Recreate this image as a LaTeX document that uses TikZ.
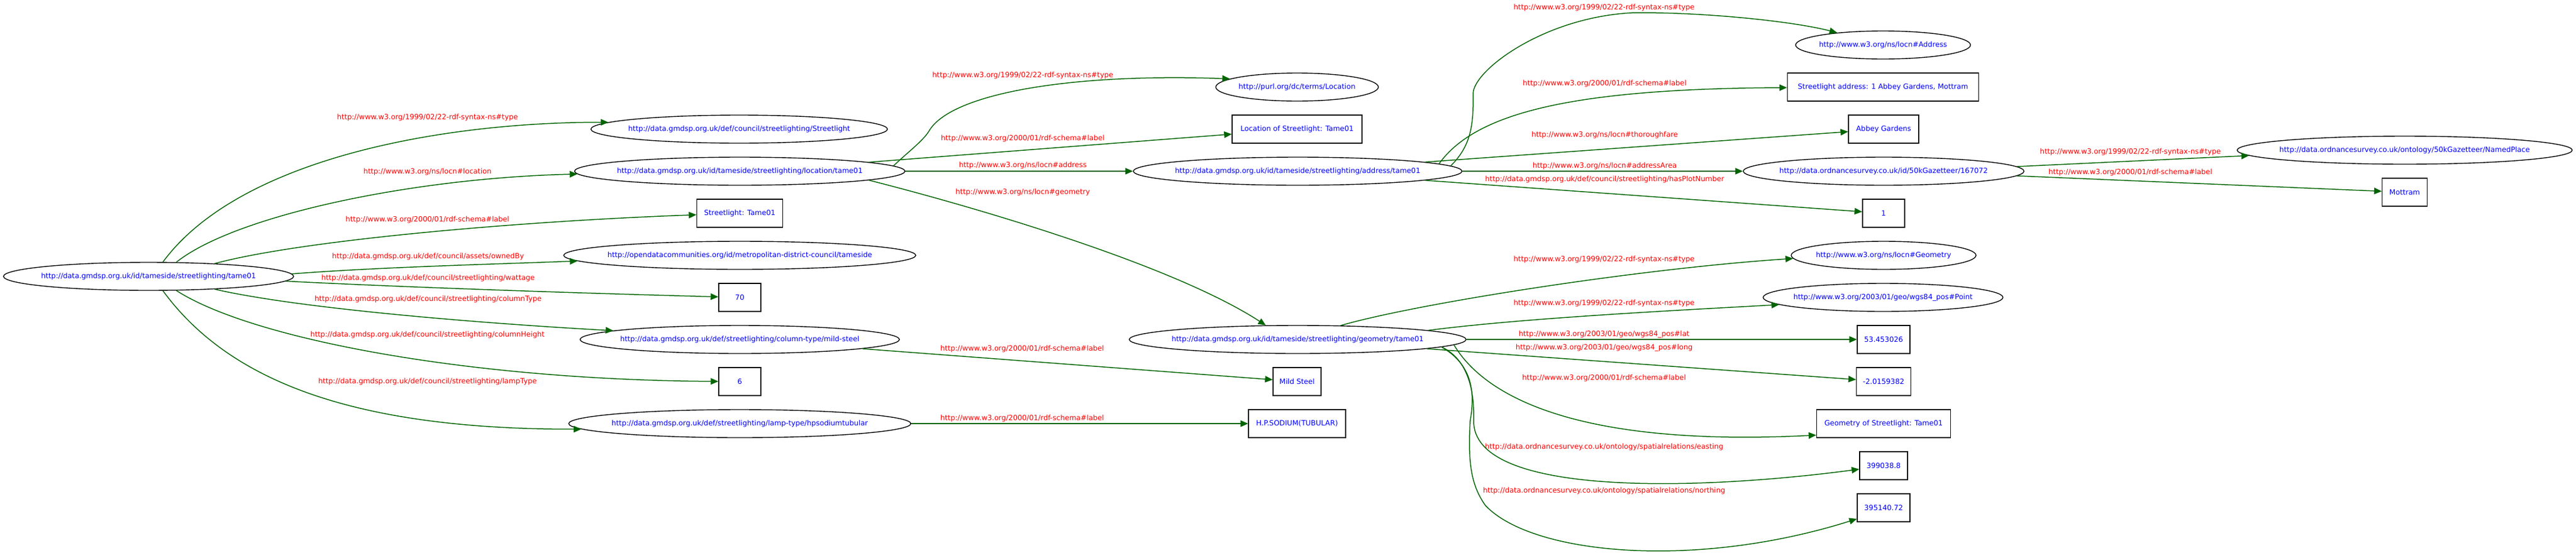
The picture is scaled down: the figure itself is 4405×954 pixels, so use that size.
\documentclass[tikz,border=0pt]{standalone}
\usepackage{fontspec}
\setmainfont{DejaVu Sans}
\usetikzlibrary{arrows.meta}
\usetikzlibrary{shapes.geometric}
\definecolor{relgreen}{HTML}{006400}
\newcommand{\urifont}{\fontsize{12.25pt}{14pt}\selectfont}
\newcommand{\iri}[1]{\makebox[0pt]{#1}}
\tikzset{res/.style = {draw, ellipse, inner sep = 0, minimum height = 48pt,
                       line width = 1.4pt, text = blue, font = \urifont}}
\tikzset{lit/.style = {draw, rectangle, inner sep = 0, minimum height = 48pt,
                       line width = 1.4pt, text = blue, font = \urifont}}
\tikzset{lbl/.style = {inner sep = 0, text = red, font = \urifont}}
\tikzset{rel/.style = {draw = relgreen, line width = 1.5pt,
                       -{Triangle[length = 13pt, width = 11pt]}}}

\begin{document}
\begin{tikzpicture}[x = 1pt, y = -1pt]
  \useasboundingbox (0, 0) rectangle (4405, 954);
  % nodes
  \node [res, minimum width = 496pt] (m) at (254, 473) {\iri{http://data.gmdsp.org.uk/id/tameside/streetlighting/tame01}};
  \node [res, minimum width = 507pt] (sl) at (1264, 221) {\iri{http://data.gmdsp.org.uk/def/council/streetlighting/Streetlight}};
  \node [res, minimum width = 565pt] (loc) at (1265, 293) {\iri{http://data.gmdsp.org.uk/id/tameside/streetlighting/location/tame01}};
  \node [lit, minimum width = 147pt] (slt) at (1265, 365) {\iri{Streetlight: Tame01}};
  \node [res, minimum width = 602pt] (odc) at (1265, 437) {\iri{http://opendatacommunities.org/id/metropolitan-district-council/tameside}};
  \node [lit, minimum width = 72pt] (w70) at (1265, 509) {\iri{70}};
  \node [res, minimum width = 546pt] (ms) at (1265, 581) {\iri{http://data.gmdsp.org.uk/def/streetlighting/column-type/mild-steel}};
  \node [lit, minimum width = 72pt] (h6) at (1265, 653) {\iri{6}};
  \node [res, minimum width = 585pt] (lt) at (1265, 725) {\iri{http://data.gmdsp.org.uk/def/streetlighting/lamp-type/hpsodiumtubular}};
  \node [res, minimum width = 278pt] (purl) at (2218, 149) {\iri{http://purl.org/dc/terms/Location}};
  \node [lit, minimum width = 222pt] (lsl) at (2218, 221) {\iri{Location of Streetlight: Tame01}};
  \node [res, minimum width = 562pt] (addr) at (2219, 293) {\iri{http://data.gmdsp.org.uk/id/tameside/streetlighting/address/tame01}};
  \node [res, minimum width = 576pt] (geo) at (2219, 581) {\iri{http://data.gmdsp.org.uk/id/tameside/streetlighting/geometry/tame01}};
  \node [lit, minimum width = 82pt] (msl) at (2218, 653) {\iri{Mild Steel}};
  \node [lit, minimum width = 166pt] (hps) at (2218, 725) {\iri{H.P.SODIUM(TUBULAR)}};
  \node [res, minimum width = 299pt] (laddr) at (3220, 77) {\iri{http://www.w3.org/ns/locn\#Address}};
  \node [lit, minimum width = 327pt] (sadr) at (3220, 149) {\iri{Streetlight address: 1 Abbey Gardens, Mottram}};
  \node [lit, minimum width = 120pt] (abb) at (3221, 221) {\iri{Abbey Gardens}};
  \node [res, minimum width = 480pt] (gaz) at (3221, 293) {\iri{http://data.ordnancesurvey.co.uk/id/50kGazetteer/167072}};
  \node [lit, minimum width = 72pt] (one) at (3221, 365) {\iri{1}};
  \node [res, minimum width = 316pt] (lgeo) at (3221, 437) {\iri{http://www.w3.org/ns/locn\#Geometry}};
  \node [res, minimum width = 410pt] (pt) at (3220, 509) {\iri{http://www.w3.org/2003/01/geo/wgs84\_pos\#Point}};
  \node [lit, minimum width = 90pt] (lat) at (3221, 581) {\iri{53.453026}};
  \node [lit, minimum width = 93pt] (lng) at (3221, 653) {\iri{-2.0159382}};
  \node [lit, minimum width = 229pt] (glbl) at (3221, 725) {\iri{Geometry of Streetlight: Tame01}};
  \node [lit, minimum width = 82pt] (east) at (3221, 797) {\iri{399038.8}};
  \node [lit, minimum width = 90pt] (north) at (3221, 869) {\iri{395140.72}};
  \node [res, minimum width = 573pt] (np) at (4112, 257) {\iri{http://data.ordnancesurvey.co.uk/ontology/50kGazetteer/NamedPlace}};
  \node [lit, minimum width = 77pt] (mot) at (4112, 329) {\iri{Mottram}};
  % predicates
  \node [lbl] (p1) at (731, 201) {http://www.w3.org/1999/02/22-rdf-syntax-ns\#type};
  \node [lbl] (p2) at (731, 294) {http://www.w3.org/ns/locn\#location};
  \node [lbl] (p3) at (731, 376) {http://www.w3.org/2000/01/rdf-schema\#label};
  \node [lbl] (p4) at (732, 439) {http://data.gmdsp.org.uk/def/council/assets/ownedBy};
  \node [lbl] (p5) at (732, 476) {http://data.gmdsp.org.uk/def/council/streetlighting/wattage};
  \node [lbl] (p6) at (732, 512) {http://data.gmdsp.org.uk/def/council/streetlighting/columnType};
  \node [lbl] (p7) at (731, 573) {http://data.gmdsp.org.uk/def/council/streetlighting/columnHeight};
  \node [lbl] (p8) at (731, 653) {http://data.gmdsp.org.uk/def/council/streetlighting/lampType};
  \node [lbl] (p9) at (1749, 129) {http://www.w3.org/1999/02/22-rdf-syntax-ns\#type};
  \node [lbl] (p10) at (1749, 237) {http://www.w3.org/2000/01/rdf-schema\#label};
  \node [lbl] (p11) at (1749, 283) {http://www.w3.org/ns/locn\#address};
  \node [lbl] (p12) at (1749, 329) {http://www.w3.org/ns/locn\#geometry};
  \node [lbl] (p13) at (1748, 597) {http://www.w3.org/2000/01/rdf-schema\#label};
  \node [lbl] (p14) at (1748, 716) {http://www.w3.org/2000/01/rdf-schema\#label};
  \node [lbl] (p15) at (2743, 13) {http://www.w3.org/1999/02/22-rdf-syntax-ns\#type};
  \node [lbl] (p16) at (2744, 143) {http://www.w3.org/2000/01/rdf-schema\#label};
  \node [lbl] (p17) at (2744, 231) {http://www.w3.org/ns/locn\#thoroughfare};
  \node [lbl] (p18) at (2744, 284) {http://www.w3.org/ns/locn\#addressArea};
  \node [lbl] (p19) at (2744, 307) {http://data.gmdsp.org.uk/def/council/streetlighting/hasPlotNumber};
  \node [lbl] (p20) at (2743, 444) {http://www.w3.org/1999/02/22-rdf-syntax-ns\#type};
  \node [lbl] (p21) at (2743, 519) {http://www.w3.org/1999/02/22-rdf-syntax-ns\#type};
  \node [lbl] (p22) at (2743, 572) {http://www.w3.org/2003/01/geo/wgs84\_pos\#lat};
  \node [lbl] (p23) at (2743, 595) {http://www.w3.org/2003/01/geo/wgs84\_pos\#long};
  \node [lbl] (p24) at (2743, 647) {http://www.w3.org/2000/01/rdf-schema\#label};
  \node [lbl] (p25) at (2743, 765) {http://data.ordnancesurvey.co.uk/ontology/spatialrelations/easting};
  \node [lbl] (p26) at (2743, 840) {http://data.ordnancesurvey.co.uk/ontology/spatialrelations/northing};
  \node [lbl] (p27) at (3643, 260) {http://www.w3.org/1999/02/22-rdf-syntax-ns\#type};
  \node [lbl] (p28) at (3643, 295) {http://www.w3.org/2000/01/rdf-schema\#label};
  % streetlight
  \draw [rel] (m.45) .. controls (410, 270) and (760, 209) .. (sl.177);
  \draw [rel] (m.27) .. controls (400, 370) and (700, 305) .. (loc.181.5);
  \draw [rel] (m.11) .. controls (520, 410) and (900, 378) .. (slt);
  \draw [rel] (m.1.7) .. controls (650, 457) and (850, 452) .. (odc.182.3);
  \draw [rel] (m.-2.7) .. controls (700, 492) and (1000, 502) .. (w70);
  \draw [rel] (m.-11.2) .. controls (520, 530) and (850, 555) .. (ms.176.8);
  \draw [rel] (m.-27) .. controls (430, 580) and (800, 650) .. (h6);
  \draw [rel] (m.-45) .. controls (390, 650) and (600, 735) .. (lt.182.3);
  % location
  \draw [rel] (loc.2.7) .. controls (1555, 258) and (1580, 240) .. (1590, 222)
                        .. controls (1630, 160) and (1830, 125) .. (purl.173.3);
  \draw [rel] (loc.4.2) -- (lsl);
  \draw [rel] (loc) -- (addr);
  \draw [rel] (loc.-4.65) .. controls (1650, 350) and (2000, 450) .. (geo.156.8);
  \draw [rel] (ms) -- (msl);
  \draw [rel] (lt) -- (hps);
  % address
  \draw [rel] (addr.2) .. controls (2515, 250) and (2520, 215) .. (2519, 160)
                       .. controls (2520, 120) and (2640, 30) .. (2790, 22)
                       .. controls (2900, 20) and (3060, 35) .. (laddr.165.5);
  \draw [rel] (addr.3) .. controls (2525, 190) and (2700, 152) .. (sadr);
  \draw [rel] (addr) -- (abb);
  \draw [rel] (addr) -- (gaz);
  \draw [rel] (addr) -- (one);
  \draw [rel] (gaz.2.2) -- (np.182.3);
  \draw [rel] (gaz.-2.1) -- (mot);
  % geometry
  \draw [rel] (geo.18.2) .. controls (2420, 520) and (2800, 460) .. (lgeo.182.9);
  \draw [rel] (geo.4.1) .. controls (2600, 545) and (2850, 532) .. (pt.184.2);
  \draw [rel] (geo) -- (lat);
  \draw [rel] (geo) -- (lng);
  \draw [rel] (geo.-2.4) .. controls (2540, 680) and (2700, 765) .. ([yshift=5pt]glbl.south west);
  \draw [rel] (geo.-3) .. controls (2500, 610) and (2522, 650) .. (2520, 720)
                       .. controls (2518, 850) and (2900, 840) .. ([yshift=-6pt]east.west);
  \draw [rel] (geo.-3.3) .. controls (2510, 620) and (2525, 660) .. (2514, 720)
                         .. controls (2510, 790) and (2515, 830) .. (2540, 865)
                         .. controls (2620, 950) and (2900, 975) .. ([yshift=-19pt]north.west);
\end{tikzpicture}
\end{document}
